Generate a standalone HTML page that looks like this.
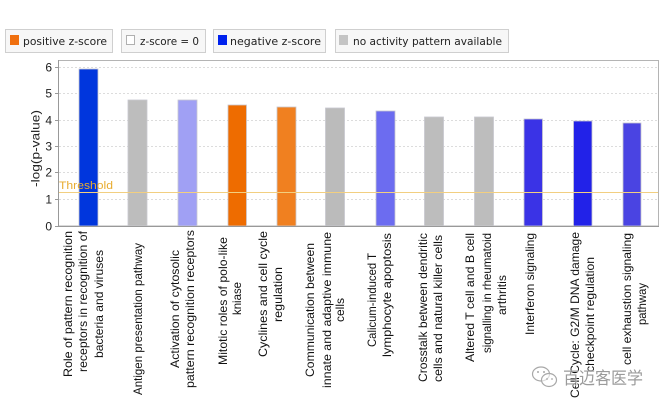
<!DOCTYPE html>
<html><head><meta charset="utf-8"><style>
html,body{margin:0;padding:0;background:#fff;}
svg{display:block;}
</style></head><body>
<svg width="665" height="406" viewBox="0 0 665 406" xmlns="http://www.w3.org/2000/svg">
<rect x="0" y="0" width="665" height="406" fill="#fff"/>
<!-- Legend -->
<g font-family="DejaVu Sans, Liberation Sans, sans-serif" font-size="10.5" fill="#222">
<rect x="5.5" y="29.5" width="107" height="23" fill="#f7f7f7" stroke="#cfcfcf"/>
<rect x="10" y="35" width="9" height="10" fill="#f07010"/>
<text x="23" y="45" textLength="84" lengthAdjust="spacingAndGlyphs">positive z-score</text>
<rect x="121.5" y="29.5" width="84" height="23" fill="#f7f7f7" stroke="#cfcfcf"/>
<rect x="126.5" y="35.5" width="8" height="9" fill="#fff" stroke="#b0b0b0"/>
<text x="140" y="45" textLength="59" lengthAdjust="spacingAndGlyphs">z-score = 0</text>
<rect x="213.5" y="29.5" width="112" height="23" fill="#f7f7f7" stroke="#cfcfcf"/>
<rect x="218" y="35" width="9" height="10" fill="#0022ee"/>
<text x="230" y="45" textLength="91" lengthAdjust="spacingAndGlyphs">negative z-score</text>
<rect x="335.5" y="29.5" width="173" height="23" fill="#f7f7f7" stroke="#cfcfcf"/>
<rect x="339" y="35" width="9" height="10" fill="#c4c4c4"/>
<text x="353" y="45" textLength="149" lengthAdjust="spacingAndGlyphs">no activity pattern available</text>
</g>
<!-- Plot frame -->
<rect x="58.5" y="60.5" width="600" height="165.5" fill="#fff" stroke="#b4b4b4"/>
<!-- Gridlines -->
<g stroke="#dcdcdc" stroke-width="1" stroke-dasharray="2,2">
<line x1="59" y1="67.5" x2="658" y2="67.5"/>
<line x1="59" y1="93.5" x2="658" y2="93.5"/>
<line x1="59" y1="120.5" x2="658" y2="120.5"/>
<line x1="59" y1="146.5" x2="658" y2="146.5"/>
<line x1="59" y1="172.5" x2="658" y2="172.5"/>
<line x1="59" y1="199.5" x2="658" y2="199.5"/>
</g>
<!-- Bars -->
<g stroke="#c8c8d0" stroke-width="0.8">
<rect x="79" y="69" width="19" height="157" fill="#0036dd"/>
<rect x="128" y="100" width="19" height="126" fill="#bdbdbd"/>
<rect x="178" y="100" width="19" height="126" fill="#a0a0f4"/>
<rect x="228" y="105" width="18.5" height="121" fill="#ee6c00"/>
<rect x="277" y="107" width="19" height="119" fill="#f08020"/>
<rect x="325.5" y="108" width="19" height="118" fill="#bbbbbb"/>
<rect x="376" y="111" width="19" height="115" fill="#6c6cf0"/>
<rect x="424.5" y="117" width="19" height="109" fill="#bdbdbd"/>
<rect x="474.5" y="117" width="19" height="109" fill="#bdbdbd"/>
<rect x="524" y="119" width="18.5" height="107" fill="#3a33e6"/>
<rect x="573.5" y="121" width="18.5" height="105" fill="#2222e8"/>
<rect x="623" y="123" width="18" height="103" fill="#4a44e2"/>
</g>
<!-- Threshold -->
<line x1="59" y1="192.5" x2="658" y2="192.5" stroke="#f2cf80" stroke-width="1"/>
<text x="59" y="189" font-family="Liberation Sans, sans-serif" font-size="11" fill="#e8ac30" textLength="54" lengthAdjust="spacingAndGlyphs">Threshold</text>
<!-- Axes -->
<line x1="58.5" y1="60" x2="58.5" y2="226" stroke="#999"/>
<line x1="58" y1="226.5" x2="659" y2="226.5" stroke="#999"/>
<g stroke="#999">
<line x1="55" y1="67.5" x2="58" y2="67.5"/>
<line x1="55" y1="93.5" x2="58" y2="93.5"/>
<line x1="55" y1="120.5" x2="58" y2="120.5"/>
<line x1="55" y1="146.5" x2="58" y2="146.5"/>
<line x1="55" y1="172.5" x2="58" y2="172.5"/>
<line x1="55" y1="199.5" x2="58" y2="199.5"/>
<line x1="55" y1="226.5" x2="58" y2="226.5"/>
</g>
<g font-family="Liberation Sans, sans-serif" font-size="12" fill="#222" text-anchor="end">
<text x="52" y="71.5">6</text>
<text x="52" y="97.5">5</text>
<text x="52" y="124.5">4</text>
<text x="52" y="150.5">3</text>
<text x="52" y="176.5">2</text>
<text x="52" y="203.5">1</text>
<text x="52" y="230.5">0</text>
</g>
<text transform="translate(39.5,148.5) rotate(-90)" font-family="Liberation Sans, sans-serif" font-size="12" fill="#222" text-anchor="middle" textLength="77" lengthAdjust="spacingAndGlyphs">-log(p-value)</text>
<!-- Category labels -->
<g font-family="Liberation Sans, sans-serif" font-size="12" fill="#111" text-anchor="middle">
<text transform="translate(72,304) rotate(-90)" textLength="146" lengthAdjust="spacingAndGlyphs">Role of pattern recognition</text>
<text transform="translate(87,301.5) rotate(-90)" textLength="141" lengthAdjust="spacingAndGlyphs">receptors in recognition of</text>
<text transform="translate(103,304) rotate(-90)" textLength="108" lengthAdjust="spacingAndGlyphs">bacteria and viruses</text>

<text transform="translate(142,319) rotate(-90)" textLength="152" lengthAdjust="spacingAndGlyphs">Antigen presentation pathway</text>

<text transform="translate(179,309) rotate(-90)" textLength="118" lengthAdjust="spacingAndGlyphs">Activation of cytosolic</text>
<text transform="translate(194,309) rotate(-90)" textLength="158" lengthAdjust="spacingAndGlyphs">pattern recognition receptors</text>

<text transform="translate(227,301) rotate(-90)" textLength="128" lengthAdjust="spacingAndGlyphs">Mitotic roles of polo-like</text>
<text transform="translate(241,298.5) rotate(-90)" textLength="33" lengthAdjust="spacingAndGlyphs">kniase</text>

<text transform="translate(267,294) rotate(-90)" textLength="126" lengthAdjust="spacingAndGlyphs">Cyclines and cell cycle</text>
<text transform="translate(282,294.5) rotate(-90)" textLength="55" lengthAdjust="spacingAndGlyphs">regulation</text>

<text transform="translate(314,310) rotate(-90)" textLength="134" lengthAdjust="spacingAndGlyphs">Communication between</text>
<text transform="translate(331,310) rotate(-90)" textLength="156" lengthAdjust="spacingAndGlyphs">innate and adaptive immune</text>
<text transform="translate(344,310) rotate(-90)" textLength="24" lengthAdjust="spacingAndGlyphs">cells</text>

<text transform="translate(376,300) rotate(-90)" textLength="94" lengthAdjust="spacingAndGlyphs">Calicum-induced T</text>
<text transform="translate(391,295) rotate(-90)" textLength="124" lengthAdjust="spacingAndGlyphs">lymphocyte apoptosis</text>

<text transform="translate(427,307.5) rotate(-90)" textLength="149" lengthAdjust="spacingAndGlyphs">Crosstalk between dendritic</text>
<text transform="translate(442,308.5) rotate(-90)" textLength="147" lengthAdjust="spacingAndGlyphs">cells and natural killer cells</text>

<text transform="translate(474,297.5) rotate(-90)" textLength="129" lengthAdjust="spacingAndGlyphs">Altered T cell and B cell</text>
<text transform="translate(491,293) rotate(-90)" textLength="120" lengthAdjust="spacingAndGlyphs">signalling in rheumatoid</text>
<text transform="translate(506,295) rotate(-90)" textLength="40" lengthAdjust="spacingAndGlyphs">arthritis</text>

<text transform="translate(534,284) rotate(-90)" textLength="102" lengthAdjust="spacingAndGlyphs">Interferon signaling</text>

<text transform="translate(579,315) rotate(-90)" textLength="166" lengthAdjust="spacingAndGlyphs">Cell Cycle: G2/M DNA damage</text>
<text transform="translate(594,314.5) rotate(-90)" textLength="115" lengthAdjust="spacingAndGlyphs">checkpoint regulation</text>

<text transform="translate(631,299) rotate(-90)" textLength="132" lengthAdjust="spacingAndGlyphs">cell exhaustion signaling</text>
<text transform="translate(646,304) rotate(-90)" textLength="42" lengthAdjust="spacingAndGlyphs">pathway</text>
</g>
<!-- Watermark -->
<g opacity="0.85">
<ellipse cx="541" cy="374" rx="8.5" ry="7" fill="rgba(255,255,255,0.6)" stroke="#9a9a9a" stroke-width="1.2"/>
<ellipse cx="549" cy="380" rx="7.5" ry="6.5" fill="rgba(255,255,255,0.6)" stroke="#9a9a9a" stroke-width="1.2"/>
<circle cx="538" cy="372" r="1" fill="#9a9a9a"/>
<circle cx="544" cy="372" r="1" fill="#9a9a9a"/>
<circle cx="547" cy="379" r="0.9" fill="#9a9a9a"/>
<circle cx="552" cy="379" r="0.9" fill="#9a9a9a"/>
<text x="563" y="384" font-family="Liberation Sans, Noto Sans CJK SC, sans-serif" font-size="17" fill="#8a8a8a" stroke="#fff" stroke-width="0.6" paint-order="stroke" textLength="80" lengthAdjust="spacingAndGlyphs">百迈客医学</text>
</g>
</svg>
</body></html>
